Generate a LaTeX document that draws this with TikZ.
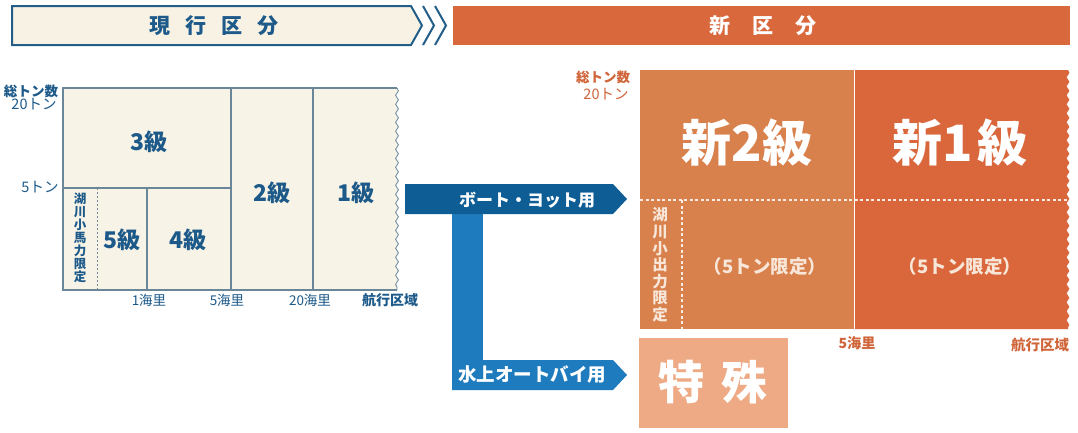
\documentclass[tikz,border=0pt]{standalone}
\usepackage{fontspec}
\setmainfont{Noto Sans CJK JP}
\usetikzlibrary{decorations.pathmorphing}
\definecolor{beige}{HTML}{F7F2E4}
\definecolor{gridbeige}{HTML}{F7F3E6}
\definecolor{navy}{HTML}{235E89}
\definecolor{txtblue}{HTML}{1D5A8A}
\definecolor{gridline}{HTML}{6A8799}
\definecolor{arrdark}{HTML}{0F5D95}
\definecolor{arrlight}{HTML}{1E7BBD}
\definecolor{orbanner}{HTML}{D9693C}
\definecolor{orleft}{HTML}{D8814C}
\definecolor{orright}{HTML}{D9673B}
\definecolor{salmon}{HTML}{EEAA84}
\definecolor{ortext}{HTML}{D0653A}
\definecolor{cream}{HTML}{F8E6D8}
\newcommand{\myfs}[1]{\fontsize{#1}{#1}\selectfont\bfseries}
\tikzset{
  bannerline/.style={draw=navy, line width=2pt, line join=miter},
  gl/.style={draw=gridline, line width=1.2pt},
  wavy/.style={decoration={snake, amplitude=1.4pt, segment length=9pt}},
  bluelbl/.style={text=txtblue, inner sep=0pt},
  orlbl/.style={text=ortext, inner sep=0pt},
  whitelbl/.style={text=white, inner sep=0pt},
}
\begin{document}
\begin{tikzpicture}[x=1pt,y=-1pt]
\useasboundingbox (0,0) rectangle (1078,432);
\fill[white] (0,0) rectangle (1078,432);

% ---- left banner
\draw[bannerline, fill=beige] (12,6) -- (411,6) -- (422,25.5) -- (411,45) -- (12,45) -- cycle;
\draw[bannerline] (423,6) -- (434,25.5) -- (423,45);
\draw[bannerline] (435,6) -- (446,25.5) -- (435,45);
\node[bluelbl, font=\myfs{21}] (hL) at (214,25.5) {現\hspace{15pt}行\hspace{15pt}区\hspace{15pt}分};

% ---- right banner
\fill[orbanner] (453,6) rectangle (1070,45);
\node[whitelbl, font=\myfs{21}] (hR) at (763,26) {新\hspace{22pt}区\hspace{22pt}分};

% ---- left grid
\fill[gridbeige] (63,88) -- (397,88) decorate[wavy]{-- (397,290)} -- (63,290) -- cycle;
\draw[gridline, line width=0.8pt] (397,88) decorate[wavy]{-- (397,290)};
\draw[gl] (397,88) -- (63,88) -- (63,290) -- (397,290);
\draw[gl] (231,88) -- (231,290);
\draw[gl] (313,88) -- (313,290);
\draw[gl] (63,188) -- (231,188);
\draw[gl] (147,188) -- (147,290);
\draw[gridline, line width=1pt, dash pattern=on 2pt off 2pt] (97,188) -- (97,290);

\node[bluelbl, font=\myfs{23}] (g3) at (149,142) {3級};
\node[bluelbl, font=\myfs{23}] (g2) at (272,193) {2級};
\node[bluelbl, font=\myfs{23}] (g1) at (356,193) {1級};
\node[bluelbl, font=\myfs{23}] (g5) at (122,240) {5級};
\node[bluelbl, font=\myfs{23}] (g4) at (188,240) {4級};
\node[bluelbl, font=\fontsize{12.5}{12.9}\selectfont\bfseries, align=center] (gk) at (80,238) {湖\\川\\小\\馬\\力\\限\\定};

\node[bluelbl, font=\myfs{13.5}] (lt) at (31,91) {総トン数};
\node[bluelbl, font=\fontsize{14.5}{14.5}\selectfont] (l20) at (34,104) {20トン};
\node[bluelbl, font=\fontsize{14.5}{14.5}\selectfont] (l5) at (40,187) {5トン};
\node[bluelbl, font=\fontsize{13.5}{13.5}\selectfont] (b1) at (149,300) {1海里};
\node[bluelbl, font=\fontsize{13.5}{13.5}\selectfont] (b5) at (227,300) {5海里};
\node[bluelbl, font=\fontsize{13.5}{13.5}\selectfont] (b20) at (310,300) {20海里};
\node[bluelbl, font=\myfs{14}] (bn) at (390,300) {航行区域};

% ---- blue arrows
\fill[arrlight] (452,212) rectangle (483,390);
\fill[arrlight] (452,360) -- (613,360) -- (627,375) -- (613,390) -- (452,390) -- cycle;
\fill[arrdark] (405,184) -- (613,184) -- (627,199) -- (613,214) -- (405,214) -- cycle;
\node[whitelbl, font=\myfs{17}] (ab) at (527,200) {ボート・ヨット用};
\node[whitelbl, font=\myfs{18.5}] (aw) at (532,375) {水上オートバイ用};

% ---- right grid
\fill[orleft] (640,70) rectangle (854,329);
\fill[orright] (854,70) -- (1068,70) decorate[wavy]{-- (1068,329)} -- (854,329) -- cycle;
\draw[white, line width=1pt] (854,70) -- (854,329);
\draw[white!85!orleft, line width=1.2pt, dash pattern=on 3pt off 2.5pt] (640,200) -- (1068,200);
\draw[white!85!orleft, line width=1.2pt, dash pattern=on 3pt off 2.5pt] (682,200) -- (682,329);

\node[whitelbl, font=\myfs{50}] (n2) at (747,143) {新2級};
\node[whitelbl, font=\myfs{50}] (n1) at (960,143) {新1\kern4pt級};
\node[text=cream, inner sep=0pt, font=\myfs{18.5}] (p2) at (765,266) {（5トン限定）};
\node[text=cream, inner sep=0pt, font=\myfs{18.5}] (p1) at (960,266) {（5トン限定）};
\node[text=cream, inner sep=0pt, font=\fontsize{15.5}{16.6}\selectfont\bfseries, align=center] (nk) at (660,265) {湖\\川\\小\\出\\力\\限\\定};

\node[orlbl, font=\myfs{13.5}] (rt) at (603,77) {総トン数};
\node[orlbl, font=\fontsize{14.5}{14.5}\selectfont] (r20) at (606,94) {20トン};
\node[orlbl, font=\myfs{14}] (r5) at (857,343) {5海里};
\node[orlbl, font=\myfs{14.5}] (rn) at (1040,345) {航行区域};

% ---- tokushu
\fill[salmon] (639,338) rectangle (788,428);
\node[whitelbl, font=\myfs{46}] (ts) at (713,382) {特\hspace{18pt}殊};
\end{tikzpicture}
\end{document}
